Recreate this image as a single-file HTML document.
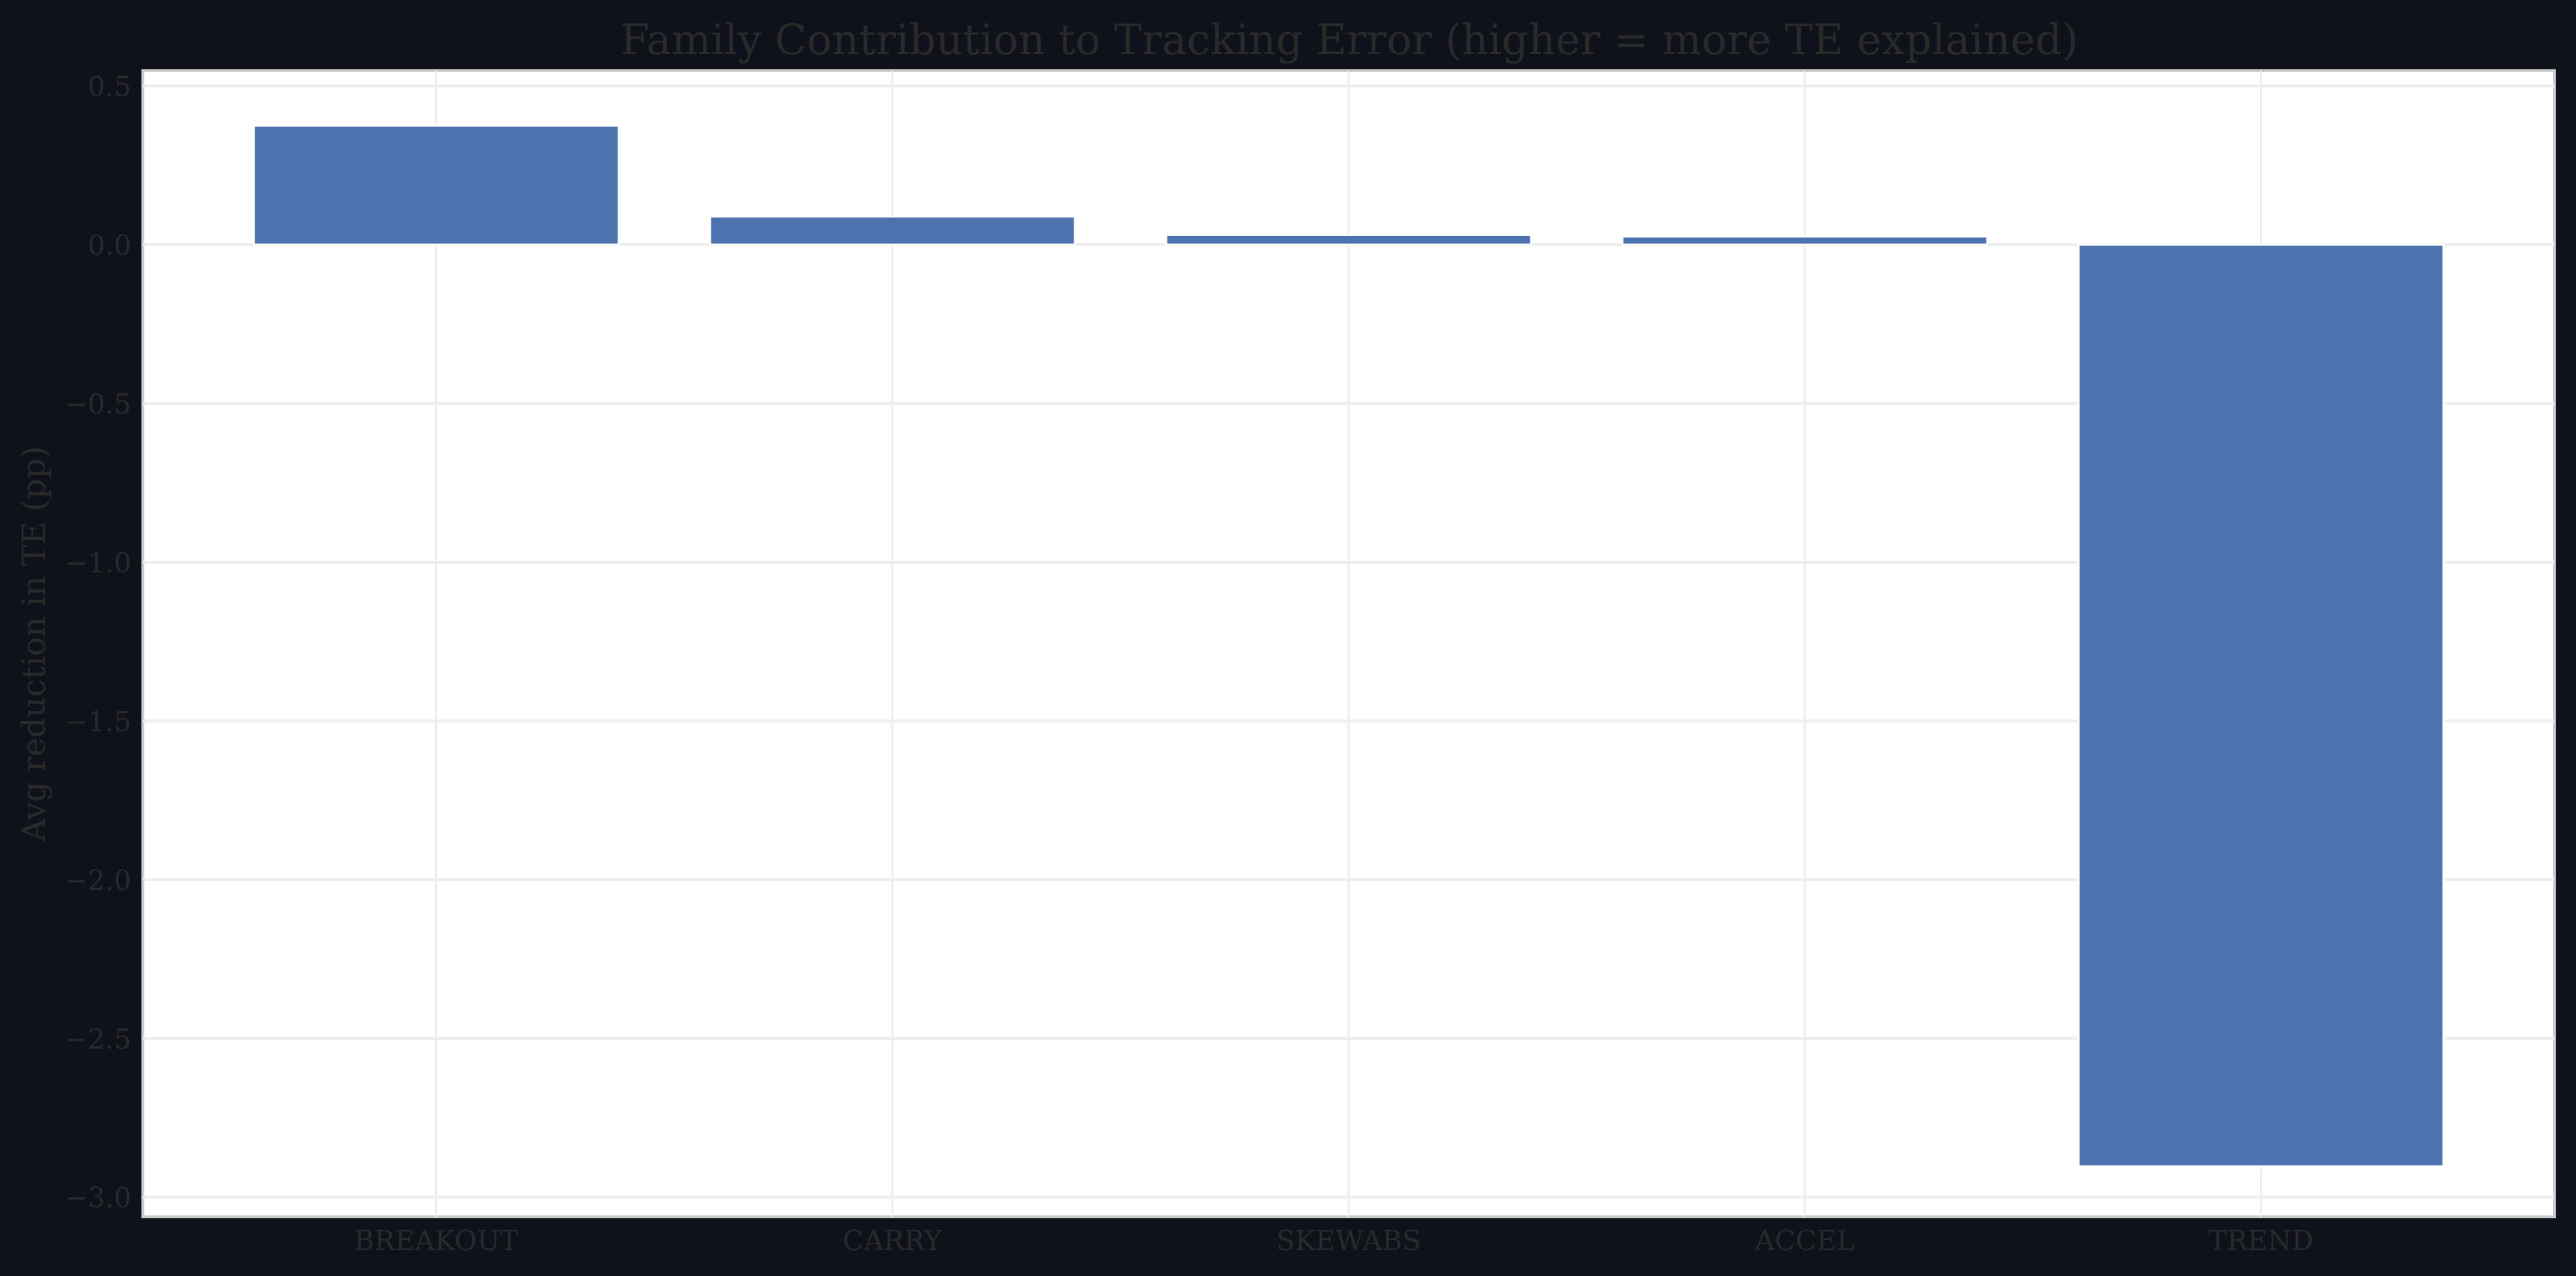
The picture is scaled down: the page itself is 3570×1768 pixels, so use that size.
<!DOCTYPE html>
<html><head><meta charset="utf-8"><style>
html,body{margin:0;padding:0;background:#0f121a;}
svg{display:block;font-family:"DejaVu Serif","Liberation Serif",serif;}
</style></head><body>
<svg id="chart" width="3570" height="1768" viewBox="0 0 3570 1768" xmlns="http://www.w3.org/2000/svg">
<rect x="0" y="0" width="3570" height="1768" fill="#0f121a"/>
<text x="1870" y="75" text-anchor="middle" font-size="58" fill="#2a2a2a">Family Contribution to Tracking Error (higher = more TE explained)</text>
<text transform="translate(62,892) rotate(-90)" text-anchor="middle" font-size="44" fill="#2a2a2a">Avg reduction in TE (pp)</text>
<rect x="198" y="98" width="3342" height="1588" fill="#ffffff" stroke="#cccccc" stroke-width="4"/>
<g id="grid"></g><g id="bars"></g><g id="yticks"></g><g id="xticks"></g>
</svg>
<script>
const categories = ["BREAKOUT","CARRY","SKEWABS","ACCEL","TREND"];
const values = [0.375, 0.089, 0.031, 0.026, -2.903];
const yTicks = [0.5, 0.0, -0.5, -1.0, -1.5, -2.0, -2.5, -3.0];
const yTickLabels = ["0.5","0.0","\u22120.5","\u22121.0","\u22121.5","\u22122.0","\u22122.5","\u22123.0"];

const L=198,R=3540,T=98,B=1686;
const xMin=-0.643,xMax=4.643,yMin=-3.062,yMax=0.548;
const xs=v=>L+(v-xMin)/(xMax-xMin)*(R-L);
const ys=v=>T+(yMax-v)/(yMax-yMin)*(B-T);
const NS="http://www.w3.org/2000/svg";
function mk(tag,attrs,parent){const e=document.createElementNS(NS,tag);for(const k in attrs)e.setAttribute(k,attrs[k]);document.getElementById(parent).appendChild(e);return e;}

yTicks.forEach((t,i)=>{
  const g=mk('line',{x1:L,x2:R,y1:ys(t),y2:ys(t),stroke:'#eeeeee','stroke-width':4},'grid');
  
  
  const lb=mk('text',{x:182,y:ys(t)+14,'text-anchor':'end','font-size':38,fill:'#2a2a2a'},'yticks');
  lb.textContent=yTickLabels[i];
  
  
});
categories.forEach((c,i)=>{
  const g=mk('line',{x1:xs(i),x2:xs(i),y1:T,y2:B,stroke:'#eeeeee','stroke-width':3},'grid');
  
  
  const v=values[i],w=0.8*(xs(1)-xs(0));
  const y0=ys(Math.max(0,v)),y1=ys(Math.min(0,v));
  const r=mk('rect',{x:xs(i)-w/2,y:y0,width:w,height:y1-y0,fill:'#4c72b0',stroke:'#ffffff','stroke-width':3},'bars');
  
  
  const lb=mk('text',{x:xs(i),y:1732,'text-anchor':'middle','font-size':38,fill:'#2a2a2a'},'xticks');
  lb.textContent=c;
  
  
});
</script>
</body></html>
